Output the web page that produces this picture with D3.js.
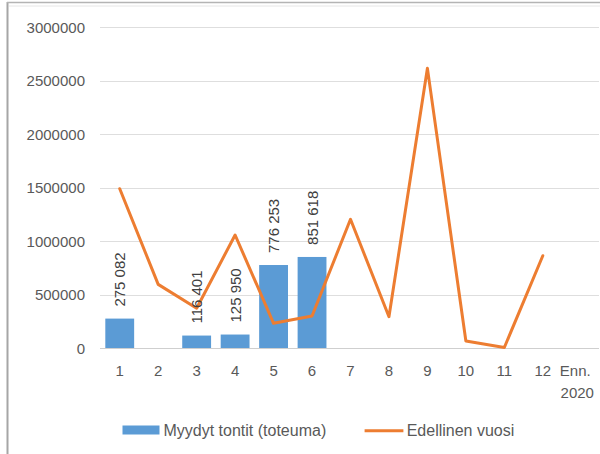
<!DOCTYPE html>
<html>
<head>
<meta charset="utf-8">
<script src="https://cdnjs.cloudflare.com/ajax/libs/d3/7.8.5/d3.min.js"></script>
<style>
html,body{margin:0;padding:0;background:#fff;}
svg{display:block;font-family:"Liberation Sans",Arial,sans-serif;}
</style>
</head>
<body>
<svg id="chart" width="600" height="454"></svg>
<script>
const categories = ["1","2","3","4","5","6","7","8","9","10","11","12","Enn. 2020"];
const soldPlots = [275082, null, 116401, 125950, 776253, 851618, null, null, null, null, null, null, null];
const soldLabels = ["275 082", "", "116 401", "125 950", "776 253", "851 618", "", "", "", "", "", "", ""];
const previousYear = [1490000, 595000, 372000, 1057000, 231000, 299000, 1204000, 293000, 2616000, 65000, 5000, 863000, null];
const yTicks = [0, 500000, 1000000, 1500000, 2000000, 2500000, 3000000];
const seriesNames = ["Myydyt tontit (toteuma)", "Edellinen vuosi"];

const svg = d3.select("#chart");
const blue = "#5B9BD5", orange = "#ED7D31", textCol = "#595959";

// frame edges
svg.append("line").attr("x1",7.5).attr("x2",7.5).attr("y1",2).attr("y2",454).attr("stroke","#a6a6a6").attr("stroke-width",2);
svg.append("line").attr("x1",7).attr("x2",600).attr("y1",2.5).attr("y2",2.5).attr("stroke","#b4b4b4").attr("stroke-width",1.5);
svg.append("line").attr("x1",9).attr("x2",600).attr("y1",6).attr("y2",6).attr("stroke","#e6e6e6").attr("stroke-width",1);

const y = d3.scaleLinear().domain([0, 3000000]).range([348, 27.3]);
const x = d3.scaleBand().domain(categories).range([100.5, 600.5]).paddingInner(0.25).paddingOuter(0.125);
const cx = c => x(c) + x.bandwidth() / 2;

// gridlines
svg.append("g").selectAll("line").data(yTicks).join("line")
  .attr("x1", 100).attr("x2", 599)
  .attr("y1", d => Math.round(y(d)) + 0.5).attr("y2", d => Math.round(y(d)) + 0.5)
  .attr("stroke", d => d === 0 ? "#cfcfcf" : "#dedede").attr("stroke-width", 1);

// y labels
svg.append("g").selectAll("text").data(yTicks).join("text")
  .attr("x", 85).attr("y", d => y(d) + 5.5)
  .attr("text-anchor", "end").attr("font-size", 15).attr("fill", textCol)
  .text(d => d3.format("d")(d));

// bars
const barData = categories.map((c, i) => ({c, v: soldPlots[i], label: soldLabels[i]})).filter(d => d.v != null);
svg.append("g").selectAll("rect").data(barData).join("rect")
  .attr("x", d => x(d.c)).attr("width", x.bandwidth())
  .attr("y", d => y(d.v)).attr("height", d => y(0) - y(d.v))
  .attr("fill", blue);

// line
const lineData = categories.map((c, i) => ({c, v: previousYear[i]}));
svg.append("path").datum(lineData)
  .attr("fill", "none").attr("stroke", orange).attr("stroke-width", 3)
  .attr("stroke-linejoin", "round").attr("stroke-linecap", "round")
  .attr("d", d3.line().defined(d => d.v != null).x(d => cx(d.c)).y(d => y(d.v)));

// bar labels
svg.append("g").selectAll("text").data(barData).join("text")
  .attr("transform", d => `translate(${cx(d.c) + 5.5},${y(d.v) - 12}) rotate(-90)`)
  .attr("text-anchor", "start").attr("font-size", 15).attr("fill", "#404040")
  .text(d => d.label);

// x labels
const xl = svg.append("g").selectAll("text").data(categories).join("text")
  .attr("text-anchor", "middle").attr("font-size", 15).attr("fill", textCol);
xl.each(function(d) {
  const parts = d.split(" ");
  const t = d3.select(this);
  const offs = [-6, -4];
  parts.forEach((p, j) => {
    t.append("tspan").attr("x", parts.length > 1 ? cx(d) + offs[j] : cx(d)).attr("y", 376 + j * 21.5).text(p);
  });
});

// legend
const lg = svg.append("g");
lg.append("rect").attr("x", 122.5).attr("y", 425.5).attr("width", 37).attr("height", 9).attr("fill", blue);
lg.append("text").attr("x", 163.5).attr("y", 436).attr("font-size", 16).attr("fill", textCol).text(seriesNames[0]);
lg.append("line").attr("x1", 364.6).attr("x2", 403.4).attr("y1", 430.7).attr("y2", 430.7)
  .attr("stroke", orange).attr("stroke-width", 3);
lg.append("text").attr("x", 406.7).attr("y", 436).attr("font-size", 16).attr("fill", textCol).text(seriesNames[1]);
</script>
</body>
</html>
